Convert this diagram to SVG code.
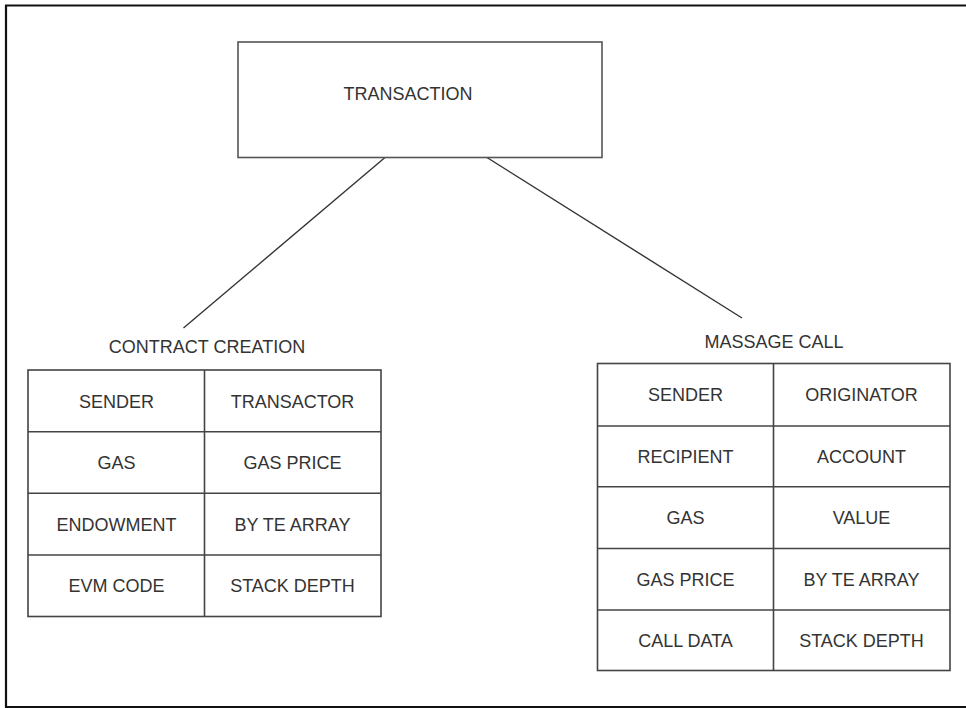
<svg xmlns="http://www.w3.org/2000/svg" width="966" height="708" viewBox="0 0 966 708">
<style>
  .frame{stroke:#111;stroke-width:2.2;fill:none}
  .box{fill:#fff;stroke:#555;stroke-width:1.6}
  .grid{stroke:#444;stroke-width:1.6;fill:none}
  .conn{stroke:#333;stroke-width:1.4;fill:none}
  text{font-family:"Liberation Sans",Arial,sans-serif;font-size:18px;fill:#333;text-anchor:middle}
</style>
<rect width="966" height="708" fill="#fff"/>
<g id="frame">
  <path class="frame" d="M6,708 V5.5 H966"/>
  <line class="frame" x1="6" y1="707" x2="966" y2="707"/>
</g>
<g id="connectors">
  <line class="conn" x1="385" y1="157.5" x2="183.5" y2="328"/>
  <line class="conn" x1="487" y1="157.5" x2="742" y2="318"/>
</g>
<g id="transaction">
  <rect class="box" x="238" y="42" width="364" height="115.5"/>
  <text x="408" y="100">TRANSACTION</text>
</g>
<g id="contract-creation">
  <text x="207" y="353">CONTRACT CREATION</text>
  <rect class="grid" x="28" y="370" width="353" height="246.5"/>
  <line class="grid" x1="204.5" y1="370" x2="204.5" y2="616.5"/>
  <line class="grid" x1="28" y1="431.7" x2="381" y2="431.7"/>
  <line class="grid" x1="28" y1="493.3" x2="381" y2="493.3"/>
  <line class="grid" x1="28" y1="555" x2="381" y2="555"/>
  <text x="116.5" y="407.5">SENDER</text>
  <text x="292.5" y="407.5">TRANSACTOR</text>
  <text x="116.5" y="469">GAS</text>
  <text x="292.5" y="469">GAS PRICE</text>
  <text x="116.5" y="530.5">ENDOWMENT</text>
  <text x="292.5" y="530.5">BY TE ARRAY</text>
  <text x="116.5" y="592">EVM CODE</text>
  <text x="292.5" y="592">STACK DEPTH</text>
</g>
<g id="message-call">
  <text x="774" y="348">MASSAGE CALL</text>
  <rect class="grid" x="597.5" y="363.5" width="352.5" height="307"/>
  <line class="grid" x1="773.5" y1="363.5" x2="773.5" y2="670.5"/>
  <line class="grid" x1="597.5" y1="426" x2="950" y2="426"/>
  <line class="grid" x1="597.5" y1="486.7" x2="950" y2="486.7"/>
  <line class="grid" x1="597.5" y1="548.5" x2="950" y2="548.5"/>
  <line class="grid" x1="597.5" y1="610" x2="950" y2="610"/>
  <text x="685.5" y="401">SENDER</text>
  <text x="861.5" y="401">ORIGINATOR</text>
  <text x="685.5" y="462.5">RECIPIENT</text>
  <text x="861.5" y="462.5">ACCOUNT</text>
  <text x="685.5" y="524">GAS</text>
  <text x="861.5" y="524">VALUE</text>
  <text x="685.5" y="585.5">GAS PRICE</text>
  <text x="861.5" y="585.5">BY TE ARRAY</text>
  <text x="685.5" y="647">CALL DATA</text>
  <text x="861.5" y="647">STACK DEPTH</text>
</g>
</svg>
